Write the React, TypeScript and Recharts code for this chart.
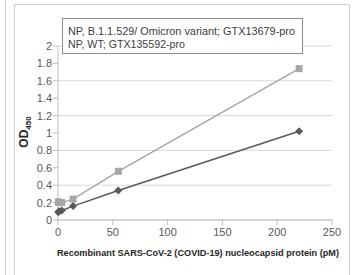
import React from 'react';
import { LineChart, Line, XAxis, YAxis, CartesianGrid, Legend } from 'recharts';

const concentrations = [0.21, 0.86, 3.44, 13.75, 55, 220];
const omicronOD = [0.21, 0.2, 0.2, 0.24, 0.56, 1.74];
const wtOD = [0.09, 0.1, 0.11, 0.16, 0.34, 1.02];
const xTicks = [0, 50, 100, 150, 200, 250];
const yTicks = [0, 0.2, 0.4, 0.6, 0.8, 1, 1.2, 1.4, 1.6, 1.8, 2];
const seriesNames = [
  'NP, B.1.1.529/ Omicron variant; GTX13679-pro',
  'NP, WT; GTX135592-pro',
];
const seriesColors = ['#A6A6A6', '#595959'];

const omicronData = concentrations.map((x, i) => ({ x, y: omicronOD[i] }));
const wtData = concentrations.map((x, i) => ({ x, y: wtOD[i] }));

const FONT = '"Liberation Sans", Arial, sans-serif';

const SquareDot = (props: any) => {
  const { cx, cy } = props;
  if (cx == null || cy == null) return null;
  return <rect x={cx - 3.5} y={cy - 3.5} width={7} height={7} fill={seriesColors[0]} />;
};

const DiamondDot = (props: any) => {
  const { cx, cy } = props;
  if (cx == null || cy == null) return null;
  const r = 4;
  return (
    <polygon
      points={`${cx},${cy - r} ${cx + r},${cy} ${cx},${cy + r} ${cx - r},${cy}`}
      fill={seriesColors[1]}
    />
  );
};

const LegendBox = () => (
  <svg width={242} height={37} style={{ display: 'block' }}>
    <rect x={0.5} y={0.5} width={240} height={35} fill="#fff" stroke="#8c8c8c" strokeWidth={1} />
    <text x={6} y={17} fontFamily={FONT} fontSize={10.5} fill="#404040" textLength={227} lengthAdjust="spacingAndGlyphs">
      {seriesNames[0]}
    </text>
    <text x={6} y={30} fontFamily={FONT} fontSize={10.5} fill="#404040" textLength={117} lengthAdjust="spacingAndGlyphs">
      {seriesNames[1]}
    </text>
  </svg>
);

const YLabel = () => (
  <text
    transform="translate(28,132) rotate(-90)"
    textAnchor="middle"
    fontFamily={FONT}
    fontSize={12}
    fontWeight="bold"
    fill="#262626"
  >
    OD<tspan fontSize={8} dy={3}>450</tspan>
  </text>
);

const XLabel = () => (
  <text
    x={339}
    y={256}
    textAnchor="end"
    fontFamily={FONT}
    fontSize={9.3}
    fontWeight="bold"
    fill="#262626"
    textLength={282}
    lengthAdjust="spacingAndGlyphs"
  >
    Recombinant SARS-CoV-2 (COVID-19) nucleocapsid protein (pM)
  </text>
);

export default function App() {
  return (
    <div style={{ position: 'absolute', left: 0, top: 0, width: 355, height: 275, background: '#fff', overflow: 'hidden' }}>
      <div style={{ position: 'absolute', left: 5, top: 0, width: 0, height: 275, borderLeft: '1px solid #d0d0d0' }} />
      <div style={{ position: 'absolute', left: 14, top: 4, width: 334, height: 290, border: '1px solid #d0d0d0' }} />
      <div style={{ position: 'absolute', left: 0, top: 0 }}>
        <LineChart width={355} height={275} margin={{ top: 46, right: 23, bottom: 25, left: 0 }}>
          <CartesianGrid horizontal vertical={false} stroke="#d9d9d9" />
          <XAxis
            dataKey="x"
            type="number"
            domain={[0, 250]}
            ticks={xTicks}
            allowDuplicatedCategory={false}
            height={30}
            tickSize={5}
            tickMargin={3}
            stroke="#bfbfbf"
            tick={{ fill: '#595959', fontSize: 11, fontFamily: FONT }}
            label={<XLabel />}
          />
          <YAxis
            dataKey="y"
            type="number"
            domain={[0, 2]}
            ticks={yTicks}
            width={58}
            tickSize={5}
            tickMargin={1}
            stroke="#bfbfbf"
            tick={{ fill: '#595959', fontSize: 11, fontFamily: FONT }}
            label={<YLabel />}
          />
          <Legend
            layout="vertical"
            align="center"
            verticalAlign="middle"
            content={<LegendBox />}
            wrapperStyle={{ left: 62, top: 18, width: 242, height: 37 }}
          />
          <Line
            data={omicronData}
            dataKey="y"
            name={seriesNames[0]}
            stroke={seriesColors[0]}
            strokeWidth={1.5}
            dot={<SquareDot />}
            activeDot={false}
            isAnimationActive={false}
          />
          <Line
            data={wtData}
            dataKey="y"
            name={seriesNames[1]}
            stroke={seriesColors[1]}
            strokeWidth={1.5}
            dot={<DiamondDot />}
            activeDot={false}
            isAnimationActive={false}
          />
        </LineChart>
      </div>
    </div>
  );
}
